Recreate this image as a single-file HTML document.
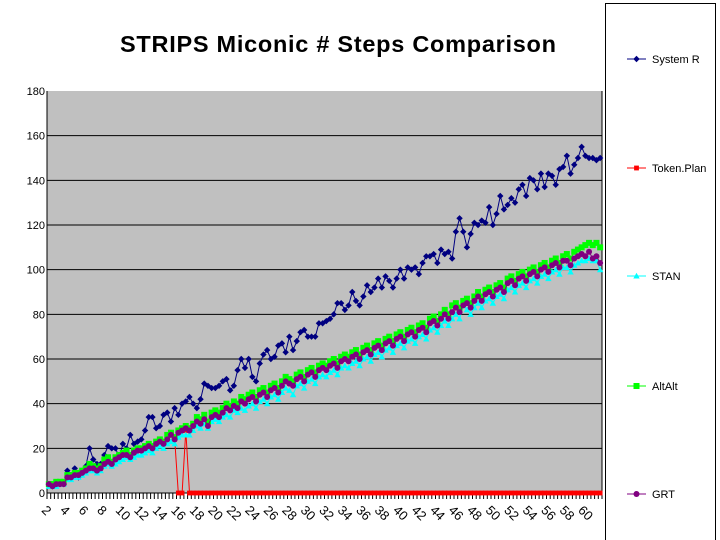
<!DOCTYPE html>
<html><head><meta charset="utf-8">
<style>
body{margin:0;background:#fff;}
svg{display:block;font-family:"Liberation Sans",Arial,sans-serif;}
</style></head>
<body>
<svg id="chart" width="720" height="540" viewBox="0 0 720 540">
<rect x="0" y="0" width="720" height="540" fill="#fff"/>
<text x="338" y="52" text-anchor="middle" font-size="23.5" font-weight="bold" textLength="436">STRIPS Miconic # Steps Comparison</text>
<rect x="47" y="91" width="555" height="402" fill="#c0c0c0"/>
<g id="grid"></g>
<g id="xticks"></g>
<g id="series"></g>
<rect x="605.5" y="3.5" width="110" height="540" fill="#fff" stroke="#000"/>
<g id="legend"></g>
</svg>
<script>
const yTicks=[0,20,40,60,80,100,120,140,160,180];
const systemR=[4,3,4,4,4,10,8,11,7,10,12,20,15,13,13,17,21,20,20,16,22,20,26,22,23,24,28,34,34,29,30,35,36,32,38,35,40,41,43,40,38,42,49,48,47,47,48,50,51,46,48,55,60,56,60,52,50,58,62,64,60,61,66,67,63,70,64,68,72,73,70,70,70,76,76,77,78,80,85,85,82,84,90,86,84,88,93,90,92,96,92,97,95,92,96,100,96,101,100,101,98,103,106,106,107,103,109,107,108,105,117,123,117,110,116,121,120,122,121,128,120,125,133,127,129,132,130,136,138,133,141,140,136,143,137,143,142,138,145,146,151,143,147,150,155,151,150,150,149,150];
const altAlt=[4,4,5,5,5,8,8,9,9,10,11,13,12,11,12,15,16,14,16,17,18,19,17,19,20,20,21,22,21,23,24,23,26,27,25,28,29,30,29,31,34,33,35,32,36,37,36,38,40,39,41,40,43,42,44,45,43,46,47,45,48,49,47,50,52,51,50,53,54,52,55,56,54,57,58,57,59,60,58,61,62,61,63,64,62,65,66,64,67,68,66,69,70,68,71,72,70,73,74,72,75,76,74,78,79,77,80,82,80,84,85,83,86,87,85,88,90,88,91,92,90,93,94,92,96,97,95,98,99,97,100,101,99,102,103,101,104,105,103,106,107,105,108,109,110,111,112,111,112,110];
const stan=[3,3,3,4,4,6,6,7,7,8,9,10,10,9,10,12,13,12,13,14,15,16,15,16,17,17,18,19,18,20,21,20,22,23,22,25,26,26,26,28,30,29,31,29,32,33,32,34,35,34,37,36,38,37,39,40,38,41,42,40,43,44,42,45,47,46,44,48,49,47,50,51,49,52,53,52,54,55,53,56,57,56,58,59,57,60,61,59,62,63,61,64,65,63,66,67,65,68,69,67,70,71,69,73,74,72,75,77,75,78,80,78,84,82,80,83,85,83,86,87,85,88,89,87,91,92,90,93,94,92,95,96,94,97,98,96,99,100,98,101,101,99,102,103,104,104,105,104,104,100];
const grt=[4,3,4,4,4,7,7,8,8,9,10,11,11,10,11,13,14,13,15,16,17,17,16,18,19,19,20,21,20,22,23,22,24,26,24,27,28,29,28,30,32,31,33,30,34,35,34,36,38,37,39,38,41,40,42,43,41,44,45,43,46,47,45,48,50,49,48,51,52,50,53,54,52,55,56,55,57,58,56,59,60,59,61,62,60,63,64,62,65,66,64,67,68,66,69,70,68,71,72,70,73,74,72,76,77,75,78,80,78,81,83,81,84,85,83,86,88,86,89,90,88,91,92,90,94,95,93,96,97,95,98,99,97,100,101,99,102,103,101,104,104,102,105,106,107,106,108,105,106,103];
const tokenPlan=[4,3,4,4,4,7,7,8,8,9,10,11,11,10,11,13,14,13,15,16,17,17,16,18,19,19,20,21,20,22,23,22,24,26,24,0,0,28,0,0,0,0,0,0,0,0,0,0,0,0,0,0,0,0,0,0,0,0,0,0,0,0,0,0,0,0,0,0,0,0,0,0,0,0,0,0,0,0,0,0,0,0,0,0,0,0,0,0,0,0,0,0,0,0,0,0,0,0,0,0,0,0,0,0,0,0,0,0,0,0,0,0,0,0,0,0,0,0,0,0,0,0,0,0,0,0,0,0,0,0,0,0,0,0,0,0,0,0,0,0,0,0,0,0,0,0,0,0,0,0];
const xLabels=["2","4","6","8","10","12","14","16","18","20","22","24","26","28","30","32","34","36","38","40","42","44","46","48","50","52","54","56","58","60"];
const seriesNames=["System R","Token.Plan","STAN","AltAlt","GRT"];

const NS="http://www.w3.org/2000/svg";
const X0=47,X1=602,Y0=493,Y1=91,N=systemR.length;
const step=(X1-X0)/N;
const xs=i=>X0+(i+0.5)*step;
const ys=v=>Y0-(v/180)*(Y0-Y1);
function mk(tag,attrs,parent){const e=document.createElementNS(NS,tag);for(const k in attrs)e.setAttribute(k,attrs[k]);parent.appendChild(e);return e;}
const grid=document.getElementById('grid');
yTicks.forEach(t=>{
  if(t>0&&t<180){const l=mk('line',{x1:X0,x2:X1,y1:ys(t),y2:ys(t),stroke:'#000','stroke-width':1},grid);
  
  }
  const tx=mk('text',{x:X0-2,y:ys(t)+4,'text-anchor':'end','font-size':11},grid);
  tx.textContent=t;
  
  
});
const border=mk('path',{d:`M${X0},${Y1}V${Y0}H${X1}V${Y1}`,fill:'none',stroke:'#000','stroke-width':1},grid);


const xt=document.getElementById('xticks');
for(let i=0;i<=N;i++){const x=X0+i*step;const l=mk('line',{x1:x,x2:x,y1:Y0,y2:Y0+6,stroke:'#000','stroke-width':1},xt);

}
xLabels.forEach((lab,k)=>{const x=xs(k*5);
  const t=mk('text',{x:x-8,y:Y0+18,'font-size':13,transform:`rotate(45 ${x-8} ${Y0+18})`},xt);
  t.textContent=lab;
  
  
});
const colors=["#000080","#ff0000","#00ffff","#00ff00","#800080"];
const shapes=["diamond","square","triangle","square","circle"];
const sizes=[3.2,2.4,3.2,3,3];
function marker(shape,x,y,r,c,parent){
  if(shape==="diamond")return mk('path',{d:`M${x},${y-r}L${x+r},${y}L${x},${y+r}L${x-r},${y}Z`,fill:c},parent);
  if(shape==="square")return mk('rect',{x:x-r,y:y-r,width:2*r,height:2*r,fill:c},parent);
  if(shape==="triangle")return mk('path',{d:`M${x},${y-r}L${x+r},${y+r*0.8}L${x-r},${y+r*0.8}Z`,fill:c},parent);
  return mk('circle',{cx:x,cy:y,r:r,fill:c},parent);
}
const data=[systemR,tokenPlan,stan,altAlt,grt];
const sg=document.getElementById('series');
data.forEach((arr,s)=>{
  const g=mk('g',{},sg);
  
  
  const pts=arr.map((v,i)=>xs(i).toFixed(1)+','+ys(v).toFixed(1)).join(' ');
  const pl=mk('polyline',{points:pts,fill:'none',stroke:colors[s],'stroke-width':1},g);
  
  
  arr.forEach((v,i)=>{const m=marker(shapes[s],xs(i),ys(v),sizes[s],colors[s],g);
    
    });
});
const lg=document.getElementById('legend');
const ly=[59,168,276,386,494];
seriesNames.forEach((n,s)=>{
  const g=mk('g',{},lg);
  
  
  mk('line',{x1:627,x2:646,y1:ly[s],y2:ly[s],stroke:colors[s],'stroke-width':1},g);
  marker(shapes[s],636.5,ly[s],sizes[s],colors[s],g);
  const t=mk('text',{x:652,y:ly[s]+4,'font-size':11},g);
  t.textContent=n;
});
</script>
</body></html>
